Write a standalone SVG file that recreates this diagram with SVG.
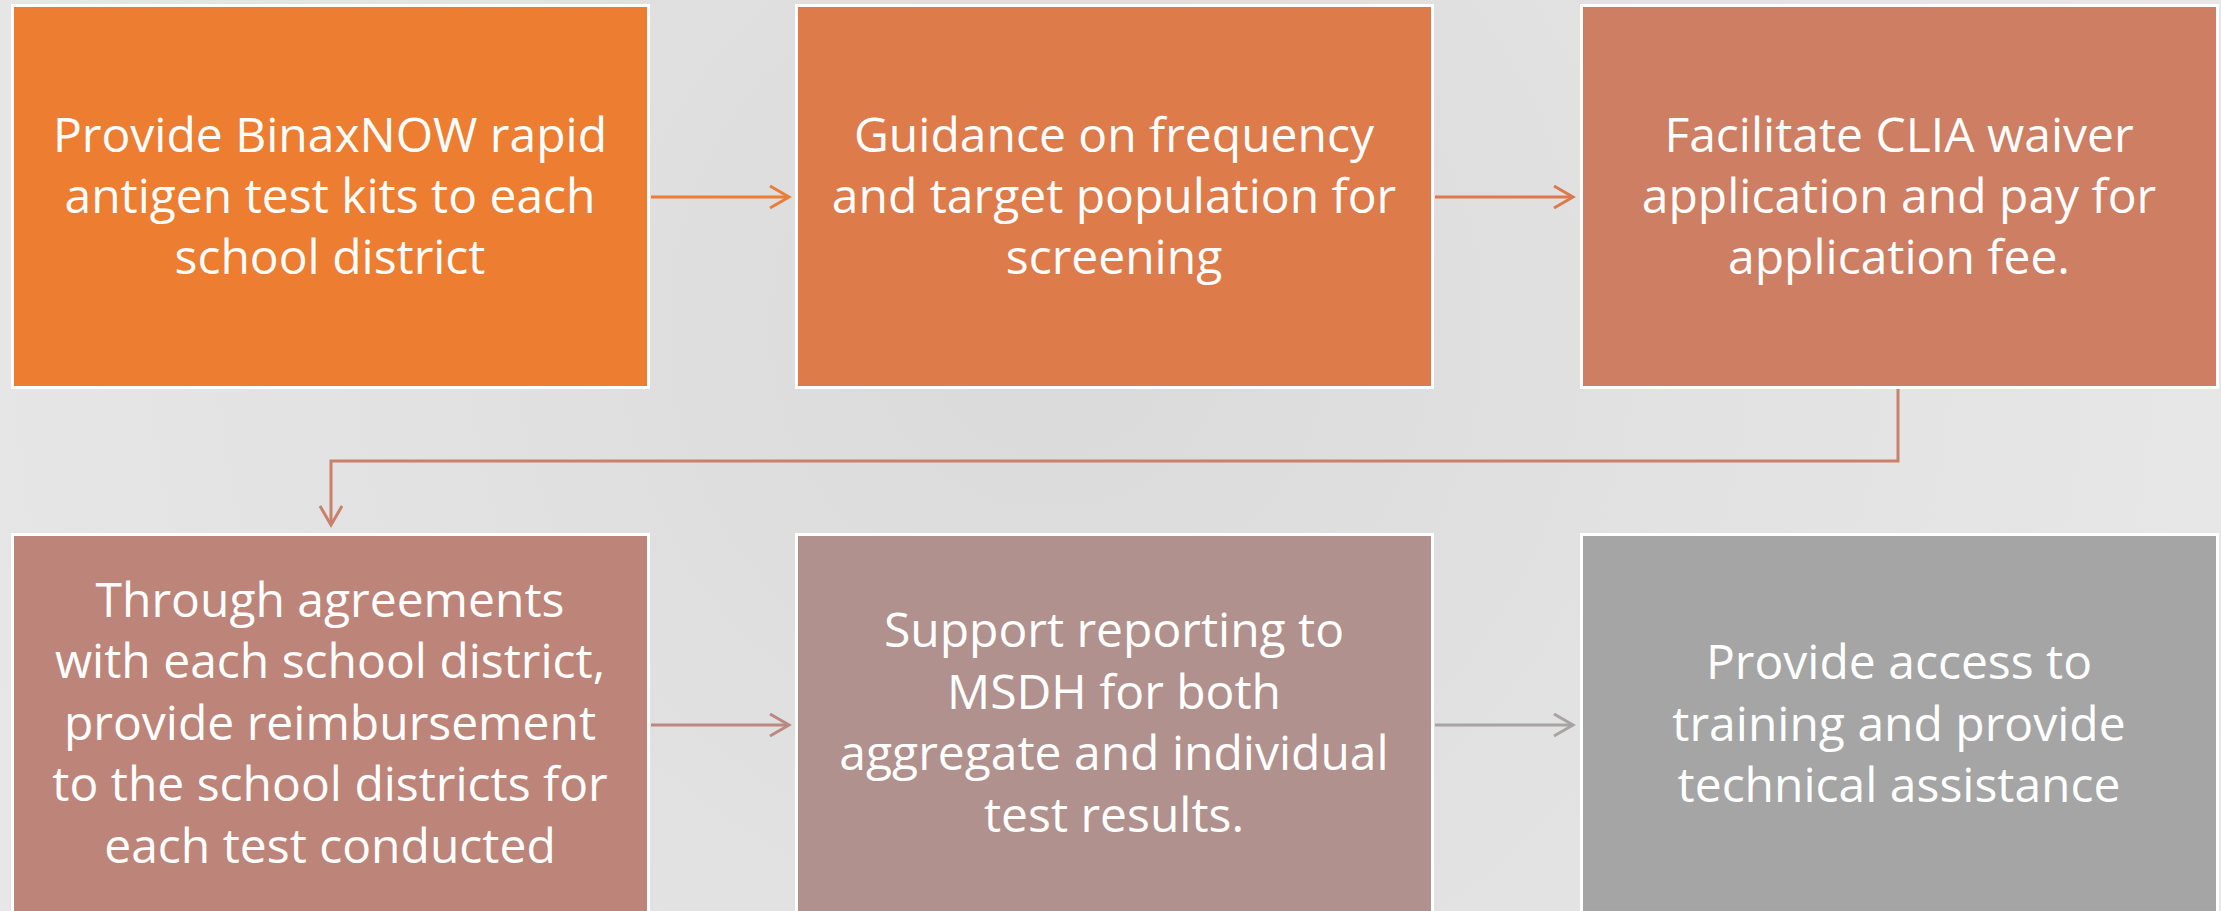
<svg xmlns="http://www.w3.org/2000/svg" width="2221" height="911" viewBox="0 0 2221 911">
<defs>
<radialGradient id="bg" cx="1050" cy="330" r="1300" gradientUnits="userSpaceOnUse">
<stop offset="0" stop-color="#DADADA"/>
<stop offset="0.5" stop-color="#E2E2E2"/>
<stop offset="1" stop-color="#E8E8E8"/>
</radialGradient>
<marker id="m1" markerUnits="userSpaceOnUse" markerWidth="30" markerHeight="30" refX="20" refY="12" orient="auto"><path d="M1,1 L20,12 L1,23" fill="none" stroke="#EA7E36" stroke-width="3"/></marker>
<marker id="m2" markerUnits="userSpaceOnUse" markerWidth="30" markerHeight="30" refX="20" refY="12" orient="auto"><path d="M1,1 L20,12 L1,23" fill="none" stroke="#DB7A4F" stroke-width="3"/></marker>
<marker id="m3" markerUnits="userSpaceOnUse" markerWidth="30" markerHeight="30" refX="20" refY="12" orient="auto"><path d="M1,1 L20,12 L1,23" fill="none" stroke="#C9806C" stroke-width="3"/></marker>
<marker id="m4" markerUnits="userSpaceOnUse" markerWidth="30" markerHeight="30" refX="20" refY="12" orient="auto"><path d="M1,1 L20,12 L1,23" fill="none" stroke="#BA8A82" stroke-width="3"/></marker>
<marker id="m5" markerUnits="userSpaceOnUse" markerWidth="30" markerHeight="30" refX="20" refY="12" orient="auto"><path d="M1,1 L20,12 L1,23" fill="none" stroke="#A8A4A3" stroke-width="3"/></marker>
</defs>
<style>
.box{stroke:#FFFFFF;stroke-width:3}
.t{font-family:"Open Sans","DejaVu Sans",sans-serif;font-size:48px;fill:#FFFFFF;text-anchor:middle}
.c{fill:none;stroke-width:3}
</style>
<rect x="0" y="0" width="2221" height="911" fill="url(#bg)"/>
<g id="connectors">
<line class="c" x1="651" y1="197" x2="789" y2="197" stroke="#EA7E36" marker-end="url(#m1)"/>
<line class="c" x1="1435" y1="197" x2="1573" y2="197" stroke="#DB7A4F" marker-end="url(#m2)"/>
<polyline class="c" points="1898,389 1898,461 331,461 331,525" stroke="#C9806C" marker-end="url(#m3)"/>
<line class="c" x1="651" y1="725" x2="789" y2="725" stroke="#BA8A82" marker-end="url(#m4)"/>
<line class="c" x1="1435" y1="725" x2="1573" y2="725" stroke="#A8A4A3" marker-end="url(#m5)"/>
</g>
<g id="node1">
<rect class="box" x="12.5" y="5.5" width="636" height="382" fill="#ED7D31"/>
<text class="t" x="330"><tspan x="330" y="152">Provide BinaxNOW rapid</tspan><tspan x="330" y="213">antigen test kits to each</tspan><tspan x="330" y="274">school district</tspan></text>
</g>
<g id="node2">
<rect class="box" x="796.5" y="5.5" width="636" height="382" fill="#DE7B4B"/>
<text class="t"><tspan x="1114" y="152">Guidance on frequency</tspan><tspan x="1114" y="213">and target population for</tspan><tspan x="1114" y="274">screening</tspan></text>
</g>
<g id="node3">
<rect class="box" x="1581.5" y="5.5" width="636" height="382" fill="#CE7E63"/>
<text class="t"><tspan x="1899" y="152">Facilitate CLIA waiver</tspan><tspan x="1899" y="213">application and pay for</tspan><tspan x="1899" y="274">application fee.</tspan></text>
</g>
<g id="node4">
<rect class="box" x="12.5" y="534.5" width="636" height="400" fill="#BD8579"/>
<text class="t"><tspan x="330" y="617">Through agreements</tspan><tspan x="330" y="678">with each school district,</tspan><tspan x="330" y="740">provide reimbursement</tspan><tspan x="330" y="801">to the school districts for</tspan><tspan x="330" y="863">each test conducted</tspan></text>
</g>
<g id="node5">
<rect class="box" x="796.5" y="534.5" width="636" height="400" fill="#B1918D"/>
<text class="t"><tspan x="1114" y="647">Support reporting to</tspan><tspan x="1114" y="709">MSDH for both</tspan><tspan x="1114" y="770">aggregate and individual</tspan><tspan x="1114" y="832">test results.</tspan></text>
</g>
<g id="node6">
<rect class="box" x="1581.5" y="534.5" width="636" height="400" fill="#A5A5A5"/>
<text class="t"><tspan x="1899" y="679">Provide access to</tspan><tspan x="1899" y="741">training and provide</tspan><tspan x="1899" y="802">technical assistance</tspan></text>
</g>
</svg>
